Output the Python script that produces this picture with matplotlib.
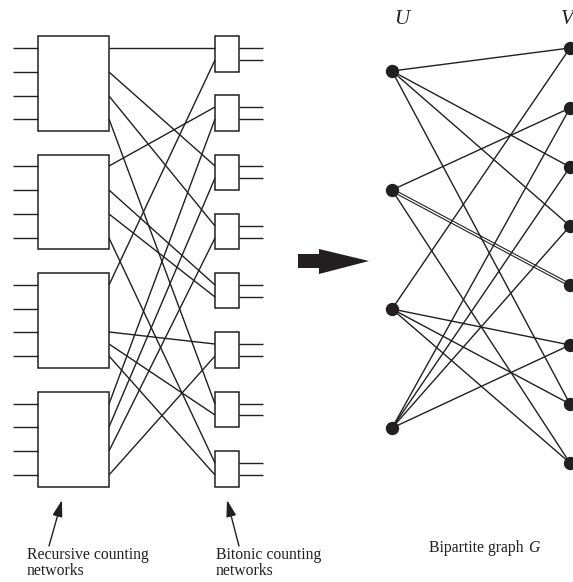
from matplotlib import pyplot as plt
from matplotlib.patches import Rectangle, Polygon

INK = '#231f20'
LW = 1.0
SERIF = 'Liberation Serif'
FS = 11.3

# caixas grandes (topo, base) e pequenas
BIG_BOXES = [(36, 131), (155, 249), (273, 368), (392, 487)]
SMALL_BOXES = [(36, 72), (95, 131), (155, 190), (214, 249),
               (273, 308), (332, 368), (392, 427), (451, 487)]

# entradas das caixas grandes
INPUTS = [48, 72, 96, 119, 166, 190, 214, 238,
          285, 309, 332, 356, 404, 427, 451, 475]

# saidas das caixas pequenas
OUTPUTS = [48, 60, 107, 119, 166, 178, 226, 238,
           285, 297, 344, 356, 404, 415, 463, 475]

# fios entre as duas colunas (y na caixa grande, y na caixa pequena)
WIRES = [(48, 48), (72, 166), (96, 226), (119, 404),
         (166, 107), (190, 285), (214, 297), (238, 463),
         (285, 60), (332, 344), (344, 415), (356, 475),
         (404, 119), (427, 178), (451, 238), (475, 356)]

# grafo bipartido
U_NODES = [71, 190, 309, 428]
V_NODES = [48, 108, 167, 226, 285, 345, 404, 463]
EDGES = [(0, 0), (0, 2), (0, 3), (0, 6),
         (1, 1), (1, 7),
         (2, 0), (2, 5), (2, 6), (2, 7),
         (3, 1), (3, 2), (3, 3), (3, 5)]
DOUBLE_EDGES = [(1, 4)]

fig = plt.figure(figsize=(5.73, 5.82), dpi=100)
ax = fig.add_axes([0, 0, 1, 1])
ax.set_xlim(0, 573)
ax.set_ylim(582, 0)
ax.axis('off')


def linha(x0, y0, x1, y1, lw=LW):
    ax.plot([x0, x1], [y0, y1], color=INK, lw=lw, solid_capstyle='butt', zorder=2)


def caixa(x0, x1, topo, base):
    ax.add_patch(Rectangle((x0, topo), x1 - x0, base - topo, fill=False,
                           edgecolor=INK, lw=LW + 0.1, zorder=3))


for y in INPUTS:
    linha(13, y, 38, y)
for y in OUTPUTS:
    linha(239, y, 263, y)
for y0, y1 in WIRES:
    linha(109, y0, 215, y1)
for topo, base in BIG_BOXES:
    caixa(38, 109, topo, base)
for topo, base in SMALL_BOXES:
    caixa(215, 239, topo, base)

# setas pequenas
for x0, x1 in [(49, 62), (239, 227)]:
    ax.annotate('', xy=(x1, 500), xytext=(x0, 546),
                arrowprops=dict(arrowstyle='-|>,head_length=1.0,head_width=0.3',
                                color=INK, lw=LW, shrinkA=0, shrinkB=0))

# seta central
ax.add_patch(Polygon([(298, 254), (319, 254), (319, 249), (369, 261),
                      (319, 274), (319, 268), (298, 268)],
                     closed=True, facecolor=INK, edgecolor='none'))

# grafo
for u, v in EDGES:
    linha(392, U_NODES[u], 570, V_NODES[v])
for u, v in DOUBLE_EDGES:
    linha(392, U_NODES[u] - 1.4, 570, V_NODES[v] - 1.4, lw=0.8)
    linha(392, U_NODES[u] + 1.4, 570, V_NODES[v] + 1.4, lw=0.8)
ax.plot([392] * len(U_NODES), U_NODES, 'o', color=INK, ms=9.6, mew=0, zorder=4)
ax.plot([570] * len(V_NODES), V_NODES, 'o', color=INK, ms=9.6, mew=0, zorder=4)

# textos
ax.text(402, 24, 'U', family=SERIF, style='italic', fontsize=15, color=INK,
        ha='center', va='baseline')
ax.text(567, 24, 'V', family=SERIF, style='italic', fontsize=15, color=INK,
        ha='center', va='baseline')
ax.text(27, 559, 'Recursive counting', family=SERIF, fontsize=FS, color=INK, va='baseline')
ax.text(27, 575, 'networks', family=SERIF, fontsize=FS, color=INK, va='baseline')
ax.text(216, 559, 'Bitonic counting', family=SERIF, fontsize=FS, color=INK, va='baseline')
ax.text(216, 575, 'networks', family=SERIF, fontsize=FS, color=INK, va='baseline')
ax.text(429, 552, 'Bipartite graph', family=SERIF, fontsize=FS, color=INK, va='baseline')
ax.text(528, 552, 'G', family=SERIF, style='italic', fontsize=FS, color=INK, va='baseline')

fig.savefig('out.png', dpi=100)
